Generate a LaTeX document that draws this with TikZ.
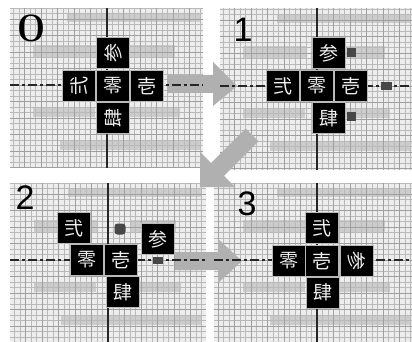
\documentclass[tikz,border=0pt]{standalone}
\usepackage{fontspec}
\usepackage{graphicx}
\setmainfont{Liberation Sans}
\newfontfamily\cjk{Noto Sans CJK JP}
\newfontfamily\serifdig{Liberation Serif}
\begin{document}
\begin{tikzpicture}[x=1pt,y=-1pt,
  panelbg/.style={fill=gray!14},
  minorgrid/.style={draw=gray!55,line width=0.35pt},
  majorgrid/.style={draw=gray!75,line width=0.5pt},
  patch/.style={fill=gray!40},
  bigarrow/.style={fill=gray!62},
  vaxis/.style={draw=black!85,line width=1.7pt},
  haxis/.style={draw=black!85,line width=1.4pt,dash pattern=on 9pt off 3pt on 3pt off 3pt},
  blk/.style={draw=gray!55,line width=1pt,fill=black,minimum width=33pt,minimum height=31pt,
    inner sep=0pt,text=gray!12,font=\cjk\fontsize{19}{19}\selectfont},
  ghost/.style={fill=black!72,inner sep=0pt},
  numlabel/.style={inner sep=0pt,font=\fontsize{34}{34}\selectfont,text=black}]
\useasboundingbox (0,0) rectangle (412,342);
\fill[white] (0,0) rectangle (412,342);
% panels: background, grid, patches
\foreach \xa/\ya/\xb/\yb/\cx/\cy in {10/8/203/168/107/85, 220/8/412/170/317/86, 10/183/206/342/108/260, 214/183/412/342/317/260}{
  \begin{scope}
    \clip (\xa,\ya) rectangle (\xb,\yb);
    \fill[panelbg] (\xa,\ya) rectangle (\xb,\yb);
    \fill[patch] (\cx-40,\cy-72) rectangle (\cx+93,\cy-63);
    \fill[patch] (\cx-74,\cy-40) rectangle (\cx-10,\cy-28);
    \fill[patch] (\cx+23,\cy-40) rectangle (\cx+68,\cy-28);
    \fill[patch] (\cx-74,\cy+22) rectangle (\cx-12,\cy+32);
    \fill[patch] (\cx+23,\cy+22) rectangle (\cx+73,\cy+32);
    \fill[patch] (\cx-47,\cy+55) rectangle (\cx+93,\cy+65);
    \foreach \k in {-20,...,20}{
      \draw[minorgrid] (\cx+\k*5.5,\ya) -- (\cx+\k*5.5,\yb);
      \draw[minorgrid] (\xa,\cy+\k*5.5) -- (\xb,\cy+\k*5.5);
    }
    \foreach \k in {-7,...,7}{
      \draw[majorgrid] (\cx+\k*16.5,\ya) -- (\cx+\k*16.5,\yb);
      \draw[majorgrid] (\xa,\cy+\k*16.5) -- (\xb,\cy+\k*16.5);
    }
  \end{scope}
}
% big gray arrows between panels
\fill[bigarrow] (167,75) -- (213,75) -- (213,62) -- (237,86) -- (213,106) -- (213,93) -- (167,93) -- cycle;
\fill[bigarrow] (200,187) -- (200,152) -- (211.1,163.1) -- (245.6,128.6) -- (258.4,141.4) -- (223.9,175.9) -- (235,187) -- cycle;
\fill[bigarrow] (175,252) -- (218,252) -- (218,239) -- (242,261) -- (218,283) -- (218,270) -- (175,270) -- cycle;
% axes
\draw[vaxis] (107,8) -- (107,168);
\draw[haxis] (10,85) -- (203,85);
\draw[vaxis] (317,8) -- (317,170);
\draw[haxis] (220,86) -- (412,86);
\draw[vaxis] (108,183) -- (108,342);
\draw[haxis] (10,260) -- (206,260);
\draw[vaxis] (317,183) -- (317,342);
\draw[haxis] (214,260) -- (412,260);
% panel 0
\node[blk] (a0) at (113,86) {零};
\node[blk] (a3) at (113,53.5) {\rotatebox{90}{参}};
\node[blk] (a2) at (79,86) {\rotatebox{90}{弐}};
\node[blk] (a1) at (147,86) {壱};
\node[blk] (a4) at (113,118) {\rotatebox{90}{肆}};
% panel 1
\node[blk] (b0) at (317,86) {零};
\node[blk] (b3) at (329,53) {参};
\node[blk] (b2) at (283,86) {弐};
\node[blk] (b1) at (351,86) {壱};
\node[blk] (b4) at (329,118) {肆};
\node[ghost,minimum width=9pt,minimum height=9pt] (g1) at (351,53) {};
\node[ghost,minimum width=11pt,minimum height=8pt] (g2) at (386,86) {};
\node[ghost,minimum width=9pt,minimum height=9pt] (g3) at (351,117) {};
% panel 2
\node[blk] (c2) at (74,228) {弐};
\node[blk] (c0) at (87,260) {零};
\node[blk] (c1) at (121,260) {壱};
\node[blk] (c4) at (122.5,292) {肆};
\node[blk] (c3) at (157.5,239) {参};
\node[ghost,minimum width=11pt,minimum height=11pt,rounded corners=3pt] (g4) at (120,229) {};
\node[ghost,minimum width=10pt,minimum height=7pt] (g5) at (158,260) {};
% panel 3
\node[blk] (d1) at (322,261) {壱};
\node[blk] (d2) at (322,228) {弐};
\node[blk] (d0) at (288.5,261) {零};
\node[blk] (d3) at (357,261) {\rotatebox{-90}{参}};
\node[blk] (d4) at (323,292.5) {肆};
% panel numbers
\node[numlabel,font=\serifdig\fontsize{40}{40}\selectfont] (n0) at (31,28) {\scalebox{1.4}[1]{0}};
\node[numlabel] (n1) at (243,30) {1};
\node[numlabel] (n2) at (25,198) {2};
\node[numlabel] (n3) at (247,204) {3};
\end{tikzpicture}
\end{document}
